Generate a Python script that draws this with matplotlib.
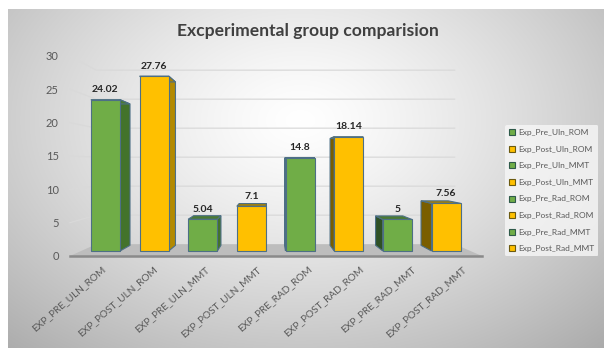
import numpy as np
import matplotlib
matplotlib.use("Agg")
import matplotlib.pyplot as plt
from matplotlib.patches import Polygon, Patch

plt.rcParams['font.family'] = ['Lato', 'DejaVu Sans']

# ---- data ----
categories = ["EXP_PRE_ULN_ROM", "EXP_POST_ULN_ROM", "EXP_PRE_ULN_MMT", "EXP_POST_ULN_MMT",
              "EXP_PRE_RAD_ROM", "EXP_POST_RAD_ROM", "EXP_PRE_RAD_MMT", "EXP_POST_RAD_MMT"]
series_names = ["Exp_Pre_Uln_ROM", "Exp_Post_Uln_ROM", "Exp_Pre_Uln_MMT", "Exp_Post_Uln_MMT",
                "Exp_Pre_Rad_ROM", "Exp_Post_Rad_ROM", "Exp_Pre_Rad_MMT", "Exp_Post_Rad_MMT"]
values = [24.02, 27.76, 5.04, 7.1, 14.8, 18.14, 5, 7.56]
value_labels = ["24.02", "27.76", "5.04", "7.1", "14.8", "18.14", "5", "7.56"]
y_ticks = [0, 5, 10, 15, 20, 25, 30]
title = "Excperimental group comparision"

# ---- styling ----
GREEN = dict(front="#70ad47", side_lit="#43732b", side_dark="#2f5125", top="#4a7a33")
GOLD = dict(front="#ffc000", side_lit="#b38a00", side_dark="#7a5e00", top="#a98200")
EDGE = "#4d6f86"

W, H, DPI = 604, 349, 100
fig = plt.figure(figsize=(W / DPI, H / DPI), dpi=DPI)

# background: white page with a soft radial gray chart area
bg = fig.add_axes([0, 0, 1, 1])
bg.set_xlim(0, W)
bg.set_ylim(H, 0)
bg.axis("off")
yy, xx = np.mgrid[0:H, 0:W]
r = np.sqrt(((xx - 300) / 360.0) ** 2 + ((yy - 120) / 250.0) ** 2)
shade = 1.0 - 0.25 * np.clip(r, 0, 1.3) ** 1.3
img = np.dstack([shade, shade, shade])
bg.imshow(np.ones((H, W, 3)), extent=(0, W, H, 0), zorder=0)
bg.imshow(img[9:348, 8:W], extent=(8, W, 348, 9), zorder=1, interpolation="bilinear")

# chart axes: data coordinates are the front plane of the 3-D box
ax = fig.add_axes([70 / W, (H - 256) / H, 412 / W, 200 / H])
ax.set_xlim(-0.5, 7.5)
ax.set_ylim(0, 30)
ax.patch.set_alpha(0)
for s in ax.spines.values():
    s.set_visible(False)
ax.set_xticks([])
ax.set_yticks(y_ticks)
ax.tick_params(axis="y", length=0, pad=8, labelcolor="#595959", labelsize=8)

# one-point perspective towards a vanishing point in data units
VX, VY = 3.42, 13.65


def proj(x, y, s):
    return VX + s * (x - VX), VY + s * (y - VY)


S_FRONT, S_BACK = 1.0, 0.87
S_BAR_F, S_BAR_B = 0.945, 0.883
x0, x1 = -0.5, 7.5

# floor
floor = [proj(x0, 0, S_FRONT), proj(x1, 0, S_FRONT), proj(x1, 0, S_BACK), proj(x0, 0, S_BACK)]
ax.add_patch(Polygon(floor, closed=True, facecolor="#bdbdbd", edgecolor="none", zorder=1, clip_on=False))
ax.plot([x0, x1], [0, 0], color="#8a8a8a", lw=1.8, zorder=1.5, clip_on=False)

# gridlines on the left wall and the back wall
for v in y_ticks[1:]:
    pts = [proj(x0, v, S_FRONT), proj(x0, v, S_BACK), proj(x1, v, S_BACK)]
    ax.plot([p[0] for p in pts], [p[1] for p in pts], color="#d9d9d9", lw=0.9, zorder=0.5, clip_on=False)

# bars
hw = 0.3
for i, v in enumerate(values):
    pal = GREEN if i % 2 == 0 else GOLD
    xa, xb = i - hw, i + hw
    if i < VX:
        xs = xb
        side_col = pal["side_lit"]
    else:
        xs = xa
        side_col = pal["side_dark"]
    side = [proj(xs, 0, S_BAR_F), proj(xs, 0, S_BAR_B), proj(xs, v, S_BAR_B), proj(xs, v, S_BAR_F)]
    top = [proj(xa, v, S_BAR_F), proj(xb, v, S_BAR_F), proj(xb, v, S_BAR_B), proj(xa, v, S_BAR_B)]
    front = [proj(xa, 0, S_BAR_F), proj(xb, 0, S_BAR_F), proj(xb, v, S_BAR_F), proj(xa, v, S_BAR_F)]
    for poly, col, z in ((side, side_col, 2), (top, pal["top"], 2.1), (front, pal["front"], 3)):
        ax.add_patch(Polygon(poly, closed=True, facecolor=col, edgecolor=EDGE, lw=0.8,
                             joinstyle="miter", zorder=z, clip_on=False))
    lx, ly = proj(i, v, S_BAR_F)
    ax.annotate(value_labels[i], (lx, ly), xytext=(0, 4), textcoords="offset points",
                ha="center", va="bottom", fontsize=7.5, fontweight="bold", color="#262626",
                zorder=5, annotation_clip=False)

# category labels
for i, lab in enumerate(categories):
    ax.text(i + 0.12, -1.3, lab, rotation=41, rotation_mode="anchor", ha="right", va="top",
            fontsize=7.3, color="#595959", clip_on=False)

# title
fig.text(308 / W, 1 - 31 / H, title, ha="center", va="center", fontsize=12.6,
         fontweight="bold", color="#404040")

# legend
handles = [Patch(facecolor=(GREEN if i % 2 == 0 else GOLD)["front"],
                 edgecolor=("#2f5a4a" if i % 2 == 0 else "#6b5a10"), lw=0.8)
           for i in range(len(series_names))]
leg = fig.legend(handles, series_names, loc="upper left", bbox_to_anchor=(505 / W, 1 - 125 / H),
                 frameon=True, fontsize=6, labelcolor="#595959", handlelength=0.75,
                 handleheight=0.75, handletextpad=0.3, labelspacing=1.15, borderpad=0.5,
                 borderaxespad=0)
leg.get_frame().set_facecolor("#f7f7f7")
leg.get_frame().set_edgecolor("none")
leg.get_frame().set_alpha(0.8)

fig.savefig("out.png", dpi=DPI)
